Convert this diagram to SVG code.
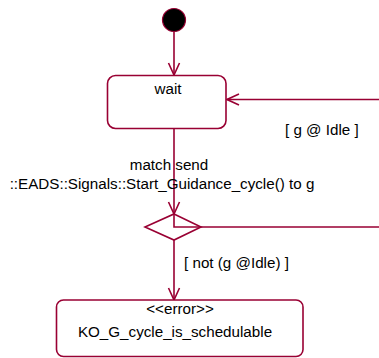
<svg xmlns="http://www.w3.org/2000/svg" width="379" height="358" viewBox="0 0 379 358">
<style>
.ln{stroke:#990033;stroke-width:1.6;fill:none}
.nd{stroke:#990033;stroke-width:1.6;fill:#fff}
text{font-family:"Liberation Sans",Arial,sans-serif;font-size:15.2px;fill:#000}
</style>
<defs>
<marker id="ah" viewBox="0 0 14 14" refX="13" refY="7" markerWidth="14" markerHeight="14" markerUnits="userSpaceOnUse" orient="auto">
<path d="M1,1.5 L13,7 L1,12.5" fill="none" stroke="#990033" stroke-width="1.6"/>
</marker>
</defs>
<rect width="379" height="358" fill="#fff"/>
<g id="connectors">
<line class="ln" x1="174" y1="31" x2="174" y2="75" marker-end="url(#ah)"/>
<line class="ln" x1="379" y1="99.5" x2="227" y2="99.5" marker-end="url(#ah)"/>
<line class="ln" x1="174" y1="128.5" x2="174" y2="214" marker-end="url(#ah)"/>
<polyline class="ln" points="174,214 174,227 379,227"/>
<line class="ln" x1="174" y1="240" x2="174" y2="300" marker-end="url(#ah)"/>
<text x="285" y="135">[ g @ Idle ]</text>
<text x="169" y="170" text-anchor="middle">match send</text>
<text x="162" y="189" text-anchor="middle">::EADS::Signals::Start_Guidance_cycle() to g</text>
<text x="184" y="268">[ not (g @Idle) ]</text>
</g>
<g id="initial">
<circle cx="174" cy="20" r="11.5" fill="#000" stroke="#990033" stroke-width="1.2"/>
</g>
<g id="wait">
<rect class="nd" x="107.5" y="75.5" width="118.5" height="53" rx="8" ry="8"/>
<text x="168" y="94" text-anchor="middle">wait</text>
</g>
<g id="decision">
<polygon class="ln" points="174,214 201,227 174,240 145,227"/>
</g>
<g id="error">
<rect class="nd" x="56.5" y="300" width="246.5" height="56.5" rx="7" ry="7"/>
<text x="180" y="314" text-anchor="middle">&lt;&lt;error&gt;&gt;</text>
<text x="175" y="337" text-anchor="middle">KO_G_cycle_is_schedulable</text>
</g>
</svg>
